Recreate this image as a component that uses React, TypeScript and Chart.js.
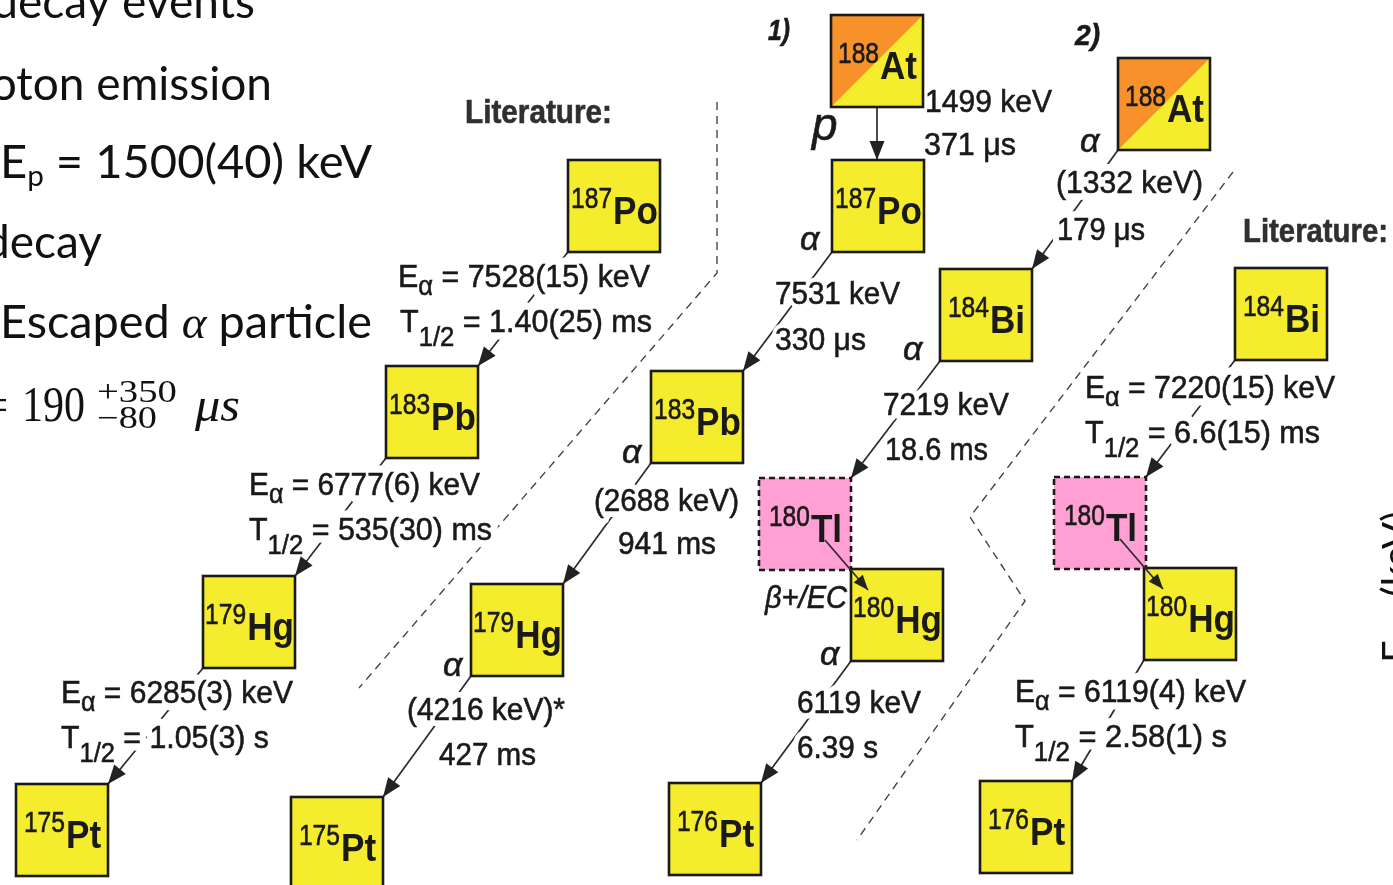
import React, { useEffect, useRef } from 'react';
import { Chart, registerables } from 'chart.js';

Chart.register(...registerables);

const CANVAS_W = 1393;
const CANVAS_H = 885;
const BOX_SIZE = 92;

// ---- nuclide boxes (top-left corner in diagram units) ----
const boxMass = ['187', '183', '179', '175', '183', '179', '175', '188', '187', '184', '180', '180', '176', '188', '184', '180', '180', '176'];
const boxSymbol = ['Po', 'Pb', 'Hg', 'Pt', 'Pb', 'Hg', 'Pt', 'At', 'Po', 'Bi', 'Tl', 'Hg', 'Pt', 'At', 'Bi', 'Tl', 'Hg', 'Pt'];
const boxX = [568, 386, 203, 16, 651, 471, 291, 831, 832, 940, 759, 851, 669, 1118, 1235, 1054, 1144, 980];
const boxY = [160, 366, 576, 784, 371, 584, 797, 15, 160, 269, 478, 569, 783, 58, 268, 477, 568, 781];
const boxKind = ['y', 'y', 'y', 'y', 'y', 'y', 'y', 'o', 'y', 'y', 'p', 'y', 'y', 'o', 'y', 'p', 'y', 'y'];

// ---- decays: parent box -> daughter box ----
const decayFrom = [0, 1, 2, 4, 5, 7, 8, 9, 10, 11, 13, 14, 15, 16];
const decayTo = [1, 2, 3, 5, 6, 8, 4, 10, 11, 12, 9, 15, 16, 17];
const decayMode = ['a', 'a', 'a', 'a', 'a', 'p', 'a', 'a', 'b', 'a', 'a', 'a', 'b', 'a'];

// ---- dashed separators ----
const dashAX = [717, 717, 359];
const dashAY = [102, 273, 688];
const dashBX = [1233, 970, 1025, 857];
const dashBY = [172, 517, 601, 840];

// ---- diagram labels ----
const labelText = [
  '1499 keV', '371 μs', '7531 keV', '330 μs', '(1332 keV)', '179 μs', '7219 keV', '18.6 ms',
  '6119 keV', '6.39 s', '(2688 keV)', '941 ms', '(4216 keV)*', '427 ms',
  'E_{α} = 7528(15) keV', 'T_{1/2} = 1.40(25) ms', 'E_{α} = 6777(6) keV', 'T_{1/2} = 535(30) ms',
  'E_{α} = 6285(3) keV', 'T_{1/2} = 1.05(3) s', 'E_{α} = 7220(15) keV', 'T_{1/2} = 6.6(15) ms',
  'E_{α} = 6119(4) keV', 'T_{1/2} = 2.58(1) s',
  'α', 'α', 'α', 'α', 'α', 'α', 'p', 'β+/EC',
  'Literature:', 'Literature:', '1)', '2)',
];
const labelX = [
  925, 924, 775, 775, 1056, 1057, 883, 885,
  797, 797, 594, 618, 407, 439,
  398, 400, 249, 249,
  61, 61, 1085, 1085,
  1015, 1015,
  800, 1080, 903, 820, 622, 443, 812, 765,
  465, 1243, 768, 1075,
];
const labelY = [
  112, 155, 304, 350, 193, 240, 415, 460,
  713, 758, 511, 554, 720, 765,
  287, 332, 495, 540,
  703, 748, 398, 443,
  702, 747,
  250, 152, 360, 665, 463, 676, 140, 608,
  123, 242, 40, 45,
];
const labelEnd = [
  1052, 1016, 900, 866, 1203, 1145, 1009, 988,
  921, 878, 739, 716, 565, 536,
  650, 652, 480, 492,
  293, 269, 1335, 1320,
  1246, 1227,
  null, null, null, null, null, null, null, 847,
  612, 1388, 790, 1100,
];
const labelStyle = [
  'n', 'n', 'n', 'n', 'n', 'n', 'n', 'n',
  'n', 'n', 'n', 'n', 'n', 'n',
  'n', 'n', 'n', 'n', 'n', 'n', 'n', 'n', 'n', 'n',
  'i', 'i', 'i', 'i', 'i', 'i', 'i', 'i',
  'b', 'b', 'bi', 'bi',
];
const labelSize = [
  32, 32, 32, 32, 32, 32, 32, 32,
  32, 32, 32, 32, 32, 32,
  32, 32, 32, 32, 32, 32, 32, 32, 32, 32,
  34, 34, 34, 34, 34, 34, 46, 31,
  33, 33, 30, 30,
];
const labelHalo = [
  12, 12, 9, 9, 14, 14, 12, 12,
  12, 12, 12, 12, 12, 12,
  15, 15, 15, 15, 15, 15, 15, 15, 15, 15,
  6, 6, 6, 6, 6, 6, 6, 6,
  6, 6, 6, 6,
];

// ---- left-hand summary text ----
const summaryLines = [
  { y: 18, end: 255, parts: [['α decay events', 'L', 46, 0]] },
  { y: 100, end: 272, parts: [['Proton emission', 'L', 46, 0]] },
  { y: 178, start: 0, fit: 372, parts: [['E', 'L', 46, 0], ['p', 'L', 29, 8], [' = 1500(40) keV', 'L', 46, 0]] },
  { y: 258, end: 102, parts: [['α decay', 'L', 46, 0]] },
  { y: 338, start: 0, fit: 372, parts: [['Escaped ', 'L', 46, 0], ['α', 'MI', 46, 0], [' particle', 'L', 46, 0]] },
];
// text, font, size, x start, x end, baseline
const halfLifeParts = [
  ['=', 'M', 46, -15, 8, 420],
  ['190', 'M', 50, 22, 85, 421],
  ['+350', 'M', 31, 97, 177, 402],
  ['−80', 'M', 31, 97, 157, 428],
  ['μs', 'MI', 48, 195, 240, 421],
];

const SANS = '"Liberation Sans", Arial, sans-serif';
const YELLOW = '#f5ec2d';
const ORANGE = '#f7912a';
const PINK = '#ff9fd3';
const INK = '#1a1a1a';

function fontFor(style: string, size: number) {
  if (style === 'i') return `italic ${size}px ${SANS}`;
  if (style === 'b') return `bold ${size}px ${SANS}`;
  if (style === 'bi') return `italic bold ${size}px ${SANS}`;
  return `${size}px ${SANS}`;
}

function bigFont(key: string, size: number) {
  if (key === 'M') return `${size}px "Liberation Serif", serif`;
  if (key === 'MI') return `italic ${size}px "Liberation Serif", serif`;
  return `${size}px Lato, "Open Sans", sans-serif`;
}

function parseRich(text: string) {
  const segs: { t: string; sub: boolean }[] = [];
  const re = /_\{([^}]*)\}/g;
  let last = 0;
  let m: RegExpExecArray | null;
  while ((m = re.exec(text))) {
    if (m.index > last) segs.push({ t: text.slice(last, m.index), sub: false });
    segs.push({ t: m[1], sub: true });
    last = re.lastIndex;
  }
  if (last < text.length) segs.push({ t: text.slice(last), sub: false });
  return segs;
}

function drawLabel(ctx: CanvasRenderingContext2D, i: number, x: number, y: number, endX: number | null, pass: 'halo' | 'fill') {
  const style = labelStyle[i];
  const size = labelSize[i];
  const segs = parseRich(labelText[i]);
  let total = 0;
  const mets = segs.map((s) => {
    const sz = s.sub ? size * 0.84 : size;
    ctx.font = fontFor(style, sz);
    const w = ctx.measureText(s.t).width;
    total += w;
    return { sz, w };
  });
  const sx = endX != null ? (endX - x) / total : 1;
  ctx.save();
  ctx.translate(x, y);
  ctx.scale(sx, 1);
  let cx = 0;
  segs.forEach((s, k) => {
    const { sz, w } = mets[k];
    ctx.font = fontFor(style, sz);
    const dy = s.sub ? (s.t.length > 1 ? 0.44 : 0.24) * size : 0;
    if (pass === 'halo') {
      ctx.strokeStyle = '#ffffff';
      ctx.lineWidth = labelHalo[i];
      ctx.lineJoin = 'round';
      ctx.strokeText(s.t, cx, dy);
    } else {
      const col = style === 'b' ? '#303030' : INK;
      ctx.fillStyle = col;
      ctx.fillText(s.t, cx, dy);
      ctx.strokeStyle = col;
      ctx.lineWidth = 0.6;
      ctx.strokeText(s.t, cx, dy);
    }
    cx += w;
  });
  ctx.restore();
}

function arrowHead(ctx: CanvasRenderingContext2D, x1: number, y1: number, x2: number, y2: number, len: number, half: number) {
  const ang = Math.atan2(y2 - y1, x2 - x1);
  const bx = x2 - len * Math.cos(ang);
  const by = y2 - len * Math.sin(ang);
  ctx.beginPath();
  ctx.moveTo(x2, y2);
  ctx.lineTo(bx + half * Math.sin(ang), by - half * Math.cos(ang));
  ctx.lineTo(bx - half * Math.sin(ang), by + half * Math.cos(ang));
  ctx.closePath();
  ctx.fillStyle = '#222222';
  ctx.fill();
}

const diagramPlugin = {
  id: 'decayDiagram',
  afterDatasetsDraw(chart: any) {
    const ctx: CanvasRenderingContext2D = chart.ctx;
    const xs = chart.scales.x;
    const ys = chart.scales.y;
    const px = (v: number) => xs.getPixelForValue(v);
    const py = (v: number) => ys.getPixelForValue(v);
    const box = (i: number) => ({ l: px(boxX[i]), t: py(boxY[i]), r: px(boxX[i] + BOX_SIZE), b: py(boxY[i] + BOX_SIZE) });

    ctx.save();
    ctx.textBaseline = 'alphabetic';
    ctx.textAlign = 'left';

    const arrows = decayFrom.map((f, k) => {
      const a = box(f);
      const c = box(decayTo[k]);
      const m = decayMode[k];
      const w = a.r - a.l;
      const h = a.b - a.t;
      if (m === 'p') return { x1: (a.l + a.r) / 2, y1: a.b, x2: (a.l + a.r) / 2, y2: c.t, m };
      if (m === 'b') return { x1: a.l + w * 0.717, y1: a.t + h * 0.674, x2: a.l + w * 1.185, y2: a.t + h * 1.217, m };
      return { x1: a.l, y1: a.b, x2: c.r, y2: c.t, m };
    });

    // arrow shafts
    ctx.strokeStyle = '#2a2a2a';
    ctx.lineWidth = 1.7;
    arrows.forEach((a) => {
      if (a.m === 'b') return;
      ctx.beginPath();
      ctx.moveTo(a.x1, a.y1);
      ctx.lineTo(a.x2, a.y2);
      ctx.stroke();
    });

    // labels: halo then fill
    (['halo', 'fill'] as const).forEach((pass) => {
      labelText.forEach((_, i) => {
        const e = labelEnd[i];
        drawLabel(ctx, i, px(labelX[i]), py(labelY[i]), e == null ? null : px(e), pass);
      });
    });

    // boxes
    boxX.forEach((_, i) => {
      const b = box(i);
      const w = b.r - b.l;
      const h = b.b - b.t;
      if (boxKind[i] === 'o') {
        ctx.fillStyle = YELLOW;
        ctx.fillRect(b.l, b.t, w, h);
        ctx.beginPath();
        ctx.moveTo(b.l, b.t);
        ctx.lineTo(b.r, b.t);
        ctx.lineTo(b.l, b.b);
        ctx.closePath();
        ctx.fillStyle = ORANGE;
        ctx.fill();
      } else {
        ctx.fillStyle = boxKind[i] === 'p' ? PINK : YELLOW;
        ctx.fillRect(b.l, b.t, w, h);
      }
      ctx.lineWidth = 2.6;
      ctx.strokeStyle = INK;
      ctx.setLineDash(boxKind[i] === 'p' ? [6, 4] : []);
      ctx.strokeRect(b.l, b.t, w, h);
      ctx.setLineDash([]);

      // nuclide name
      const massFont = `30px ${SANS}`;
      const symFont = `bold 39px ${SANS}`;
      ctx.font = massFont;
      const w1 = ctx.measureText(boxMass[i]).width * 0.82;
      ctx.font = symFont;
      const w2 = ctx.measureText(boxSymbol[i]).width * 0.9;
      const start = (b.l + b.r) / 2 - (w1 + w2) / 2;
      ctx.fillStyle = '#1a1a1a';
      ctx.strokeStyle = '#1a1a1a';
      ctx.lineWidth = 0.6;
      ctx.save();
      ctx.translate(start, b.t + h * (48 / BOX_SIZE));
      ctx.scale(0.82, 1);
      ctx.font = massFont;
      ctx.fillText(boxMass[i], 0, 0);
      ctx.strokeText(boxMass[i], 0, 0);
      ctx.restore();
      ctx.save();
      ctx.translate(start + w1 + 1, b.t + h * (64 / BOX_SIZE));
      ctx.scale(0.9, 1);
      ctx.font = symFont;
      ctx.fillText(boxSymbol[i], 0, 0);
      ctx.restore();
    });

    // beta arrows and arrow heads on top
    arrows.forEach((a) => {
      if (a.m === 'b') {
        ctx.strokeStyle = '#2a2a2a';
        ctx.lineWidth = 1.7;
        ctx.beginPath();
        ctx.moveTo(a.x1, a.y1);
        ctx.lineTo(a.x2, a.y2);
        ctx.stroke();
        arrowHead(ctx, a.x1, a.y1, a.x2, a.y2, 15, 6);
      } else {
        arrowHead(ctx, a.x1, a.y1, a.x2, a.y2, 19, 7.5);
      }
    });

    ctx.restore();
  },
  afterDraw(chart: any) {
    const ctx: CanvasRenderingContext2D = chart.ctx;
    const xs = chart.scales.x;
    const ys = chart.scales.y;
    const px = (v: number) => xs.getPixelForValue(v);
    const py = (v: number) => ys.getPixelForValue(v);
    ctx.save();
    ctx.textBaseline = 'alphabetic';
    ctx.textAlign = 'left';
    ctx.fillStyle = '#111111';

    summaryLines.forEach((line: any) => {
      let total = 0;
      const widths = line.parts.map((p: any) => {
        ctx.font = bigFont(p[1], p[2]);
        const w = ctx.measureText(p[0]).width;
        total += w;
        return w;
      });
      let sx = 1;
      let x0: number;
      if (line.start != null) {
        x0 = px(line.start);
        if (line.fit != null) sx = (px(line.fit) - x0) / total;
      } else {
        x0 = px(line.end) - total;
      }
      ctx.save();
      ctx.translate(x0, py(line.y));
      ctx.scale(sx, 1);
      let cx = 0;
      line.parts.forEach((p: any, k: number) => {
        ctx.font = bigFont(p[1], p[2]);
        ctx.fillText(p[0], cx, p[3]);
        cx += widths[k];
      });
      ctx.restore();
    });

    halfLifeParts.forEach((p: any) => {
      ctx.font = bigFont(p[1], p[2]);
      const w = ctx.measureText(p[0]).width;
      const x0 = px(p[3]);
      const sx = (px(p[4]) - x0) / w;
      ctx.save();
      ctx.translate(x0, py(p[5]));
      ctx.scale(sx, 1);
      ctx.fillText(p[0], 0, 0);
      ctx.restore();
    });

    // clipped axis title of the neighbouring panel
    ctx.save();
    ctx.translate(px(1411), py(663));
    ctx.rotate(-Math.PI / 2);
    ctx.font = bigFont('L', 40);
    ctx.fillText('E', 0, 0);
    ctx.font = bigFont('L', 26);
    ctx.fillText('p', 24, 8);
    ctx.font = bigFont('L', 40);
    ctx.fillText('(keV)', 66, 0);
    ctx.restore();

    ctx.restore();
  },
};

export default function App() {
  const canvasRef = useRef<HTMLCanvasElement | null>(null);

  useEffect(() => {
    document.body.style.margin = '0';
    const canvas = canvasRef.current;
    if (!canvas) return;
    const chart = new Chart(canvas, {
      type: 'scatter',
      data: {
        datasets: [
          {
            label: 'boundary 1',
            data: dashAX.map((x, i) => ({ x, y: dashAY[i] })),
            showLine: true,
            borderColor: '#454545',
            borderWidth: 1.4,
            borderDash: [8, 6],
            pointRadius: 0,
            fill: false,
          },
          {
            label: 'boundary 2',
            data: dashBX.map((x, i) => ({ x, y: dashBY[i] })),
            showLine: true,
            borderColor: '#454545',
            borderWidth: 1.4,
            borderDash: [8, 6],
            pointRadius: 0,
            fill: false,
          },
          {
            label: 'nuclides',
            data: boxX.map((x, i) => ({ x: x + BOX_SIZE / 2, y: boxY[i] + BOX_SIZE / 2 })),
            pointRadius: 0,
          },
        ],
      } as any,
      options: {
        responsive: false,
        animation: false,
        devicePixelRatio: 1,
        events: [],
        layout: { padding: 0 },
        scales: {
          x: { type: 'linear', min: 0, max: CANVAS_W, display: false },
          y: { type: 'linear', min: 0, max: CANVAS_H, reverse: true, display: false },
        },
        plugins: { legend: { display: false }, tooltip: { enabled: false } },
      } as any,
      plugins: [diagramPlugin],
    });
    return () => chart.destroy();
  }, []);

  return (
    <div style={{ width: CANVAS_W, height: CANVAS_H, overflow: 'hidden', background: '#ffffff' }}>
      <canvas ref={canvasRef} width={CANVAS_W} height={CANVAS_H} style={{ display: 'block' }} />
    </div>
  );
}
